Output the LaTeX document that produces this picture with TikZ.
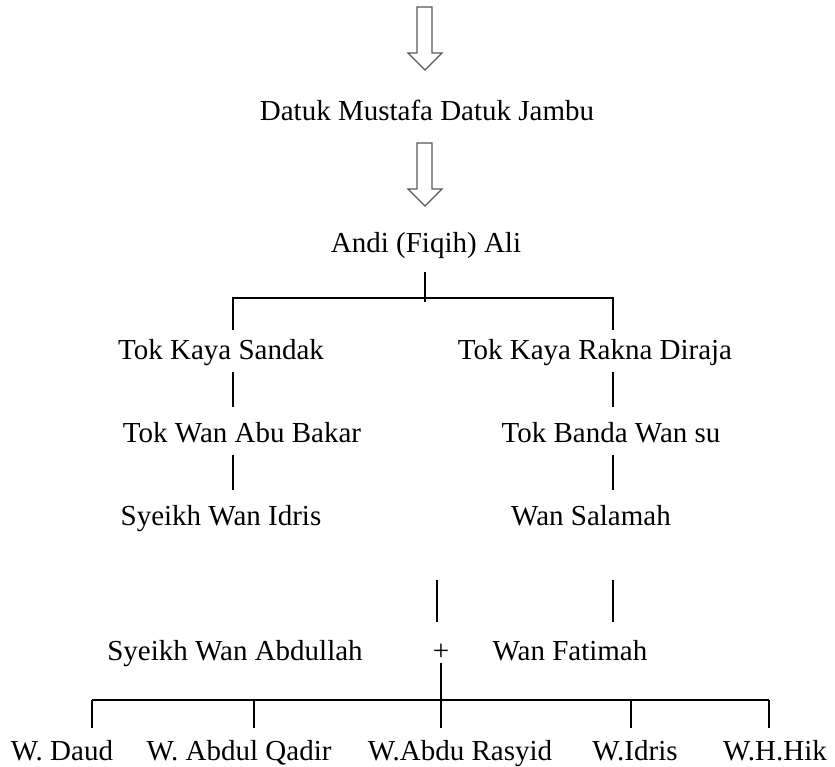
\documentclass[tikz,border=0pt]{standalone}
\usepackage{fontspec}
\setmainfont{Liberation Serif}
\usepackage{tikz}

\begin{document}
\begin{tikzpicture}[x=1pt,y=-1pt,
  person/.style={inner sep=0pt,anchor=base,font=\fontsize{29}{34}\selectfont},
  link/.style={line width=1.3pt},
  hollow/.style={draw=black!65,line width=1.1pt,fill=white}]
  \useasboundingbox (0,0) rectangle (835,767);
  % hollow block arrows
  \foreach \t in {7,143}{
    \draw[hollow,shift={(0,\t)}] (417,0) -- (432,0) -- (432,46) -- (442,46)
      -- (425,63) -- (408,46) -- (417,46) -- cycle;
  }
  \node[person] (mustafa) at (427,121) {Datuk Mustafa Datuk Jambu};
  \node[person] (ali) at (426,253) {Andi (Fiqih) Ali};
  \node[person] (sandak) at (221,359) {Tok Kaya Sandak};
  \node[person] (rakna) at (595,359) {Tok Kaya Rakna Diraja};
  \node[person] (abubakar) at (242,442) {Tok Wan Abu Bakar};
  \node[person] (bandasu) at (611,442) {Tok Banda Wan su};
  \node[person] (idris) at (221,525) {Syeikh Wan Idris};
  \node[person] (salamah) at (591,525) {Wan Salamah};
  \node[person] (abdullah) at (235,660) {Syeikh Wan Abdullah};
  \node[person] (plus) at (441,660) {+};
  \node[person] (fatimah) at (570,660) {Wan Fatimah};
  \foreach \n/\x/\t in {daud/62/W. Daud, qadir/239/W. Abdul Qadir,
      rasyid/460/W.Abdu Rasyid, widris/635/W.Idris, hik/775/W.H.Hik}{
    \node[person] (\n) at (\x,760) {\t};
  }
  % first fork
  \coordinate (aliT) at (425,272);
  \coordinate (aliB) at (425,302);
  \coordinate (fork) at (425,298);
  \coordinate (sandakT) at (233,330);
  \coordinate (raknaT) at (613,330);
  \draw[link] (aliT) -- (aliB);
  \draw[link] (sandakT) |- (fork) -| (raknaT);
  % descent lines
  \foreach \n/\x/\ya/\yb in {sa/233/372/407, ra/613/372/407, ab/233/455/490,
      bs/613/455/490, id/437/580/622, sl/613/580/622}{
    \coordinate (\n1) at (\x,\ya);
    \coordinate (\n2) at (\x,\yb);
    \draw[link] (\n1) -- (\n2);
  }
  % children
  \coordinate (pairB) at (441,663);
  \coordinate (kids) at (441,700);
  \coordinate (kidsL) at (92,700);
  \coordinate (kidsR) at (769,700);
  \draw[link] (pairB) -- (kids);
  \draw[link] (kidsL) -- (kidsR);
  \foreach \n/\x in {daud/92, qadir/254, rasyid/441, widris/631, hik/769}{
    \coordinate (\n T) at (\x,700);
    \coordinate (\n B) at (\x,728);
    \draw[link] (\n T) -- (\n B);
  }
\end{tikzpicture}
\end{document}
